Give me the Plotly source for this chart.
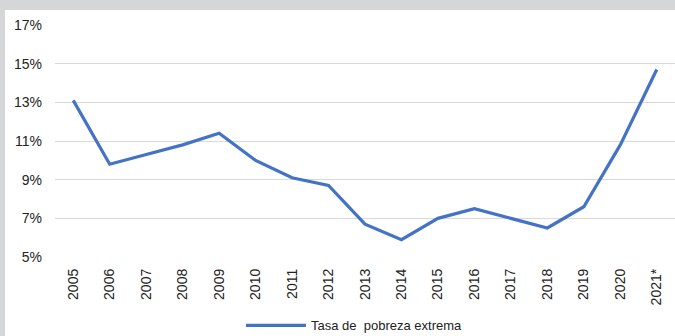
import plotly.graph_objects as go

years = ["2005", "2006", "2007", "2008", "2009", "2010", "2011", "2012", "2013",
         "2014", "2015", "2016", "2017", "2018", "2019", "2020", "2021*"]
extreme_poverty = [13.1, 9.8, 10.3, 10.8, 11.4, 10.0, 9.1, 8.7, 6.7,
                   5.9, 7.0, 7.5, 7.0, 6.5, 7.6, 10.8, 14.7]
y_ticks = [5, 7, 9, 11, 13, 15, 17]
y_tick_labels = [f"{v}%" for v in y_ticks]
series_name = "Tasa de\u00a0 pobreza extrema"

W, H = 675, 336
ML, MR, MT, MB = 55, 0, 25, 79
pw, ph = W - ML - MR, H - MT - MB

fig = go.Figure()
fig.add_trace(go.Scatter(
    x=years, y=extreme_poverty, mode="lines", name=series_name,
    line=dict(color="#4472C4", width=3.2),
))

band = "#d5d6d8"
# grey frame along the top and left edges
fig.add_shape(type="rect", xref="paper", yref="paper",
              x0=-ML / pw, x1=1.0, y0=1 + (MT - 10) / ph, y1=1 + MT / ph,
              fillcolor=band, line_width=0, layer="below")
fig.add_shape(type="rect", xref="paper", yref="paper",
              x0=-ML / pw, x1=-(ML - 5) / pw, y0=-MB / ph, y1=1 + MT / ph,
              fillcolor=band, line_width=0, layer="below")

fig.update_layout(
    width=W, height=H,
    margin=dict(l=ML, r=MR, t=MT, b=MB, autoexpand=False),
    paper_bgcolor="white", plot_bgcolor="white",
    font=dict(family="Liberation Sans, Arial, sans-serif", size=14, color="#222222"),
    showlegend=True,
    legend=dict(orientation="h", x=0.483, xanchor="center", y=-0.295, yanchor="middle",
                font=dict(size=13, color="#222222"), itemwidth=60),
    xaxis=dict(type="category", range=[-0.5, len(years) - 0.5], tickangle=-90,
               showgrid=False, showline=False, ticks="", ticklabelstandoff=8,
               automargin=False),
    yaxis=dict(range=[5, 17], tickvals=y_ticks, ticktext=y_tick_labels,
               showgrid=True, gridcolor="#d9d9d9", gridwidth=1, zeroline=False,
               showline=False, ticks="", ticklabelstandoff=12, automargin=False),
)

fig.write_html("out.html")
